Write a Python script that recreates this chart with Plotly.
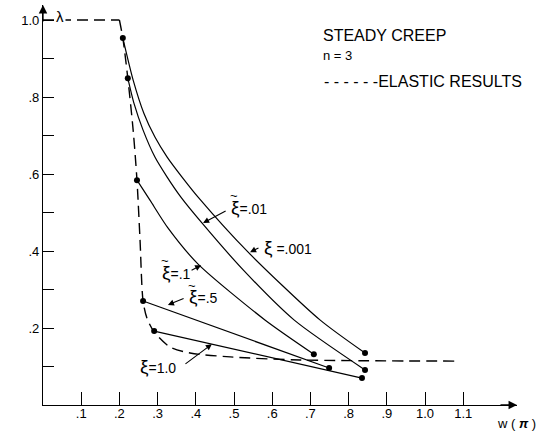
import plotly.graph_objects as go

# ---- data (w in units of pi, lambda) ----
elastic_flat_w = [0.0, 0.2]
elastic_flat_l = [1.0, 1.0]
elastic_w = [0.2, 0.209, 0.222, 0.236, 0.246, 0.254, 0.262, 0.272, 0.291, 0.332, 0.385, 0.490, 0.673, 1.092]
elastic_l = [1.0, 0.953, 0.849, 0.714, 0.584, 0.429, 0.270, 0.226, 0.190, 0.151, 0.135, 0.125, 0.117, 0.114]

xi_001_w = [0.209, 0.236, 0.264, 0.293, 0.325, 0.364, 0.406, 0.537, 0.725, 0.843]
xi_001_l = [0.953, 0.844, 0.758, 0.696, 0.644, 0.592, 0.540, 0.397, 0.221, 0.135]

xi_01_w = [0.222, 0.238, 0.262, 0.293, 0.325, 0.361, 0.416, 0.524, 0.657, 0.843]
xi_01_l = [0.849, 0.784, 0.714, 0.644, 0.592, 0.540, 0.473, 0.351, 0.221, 0.091]

xi_1_w = [0.246, 0.280, 0.327, 0.406, 0.581, 0.709]
xi_1_l = [0.584, 0.532, 0.460, 0.366, 0.221, 0.132]

xi_5_w = [0.262, 0.749]
xi_5_l = [0.270, 0.096]

xi_10_w = [0.291, 0.835]
xi_10_l = [0.192, 0.070]

x_ticks = [0.1, 0.2, 0.3, 0.4, 0.5, 0.6, 0.7, 0.8, 0.9, 1.0, 1.1]
x_tick_labels = [".1", ".2", ".3", ".4", ".5", ".6", ".7", ".8", ".9", "1.0", "1.1"]
y_ticks = [0.1, 0.2, 0.3, 0.4, 0.5, 0.6, 0.7, 0.8, 0.9, 1.0]
y_tick_labels = ["", ".2", "", ".4", "", ".6", "", ".8", "", "1.0"]

FONT = "Liberation Sans"
fig = go.Figure()

dash = "11px,6px"
fig.add_trace(go.Scatter(x=elastic_flat_w, y=elastic_flat_l, mode="lines",
                         line=dict(color="black", width=1.4, dash=dash), showlegend=False))
fig.add_trace(go.Scatter(x=elastic_w, y=elastic_l, mode="lines",
                         line=dict(color="black", width=1.4, dash=dash, shape="spline", smoothing=0.8),
                         showlegend=False))

for w, l, sm in [(xi_001_w, xi_001_l, 0.7), (xi_01_w, xi_01_l, 0.7), (xi_1_w, xi_1_l, 0.7),
                 (xi_5_w, xi_5_l, 0), (xi_10_w, xi_10_l, 0)]:
    fig.add_trace(go.Scatter(x=w, y=l, mode="lines",
                             line=dict(color="black", width=1.2, shape="spline" if sm else "linear",
                                       smoothing=sm if sm else None),
                             showlegend=False))
    fig.add_trace(go.Scatter(x=[w[0], w[-1]], y=[l[0], l[-1]], mode="markers",
                             marker=dict(color="black", size=6), showlegend=False))

annotations = []
def txt(x, y, s, size=14, xanchor="left", **kw):
    annotations.append(dict(x=x, y=y, xref="x", yref="y", text=s, showarrow=False,
                            xanchor=xanchor, yanchor="middle",
                            font=dict(family=FONT, size=size, color="black"), **kw))

def arrow(x0, y0, x1, y1):
    annotations.append(dict(x=x1, y=y1, ax=x0, ay=y0, xref="x", yref="y", axref="x", ayref="y",
                            text="", showarrow=True, arrowhead=2, arrowsize=1.1, arrowwidth=1.1,
                            arrowcolor="black"))

def xi_label(x, y, rest, tilde):
    txt(x, y, "<span style='font-size:19px'>ξ</span>" + rest, 14)
    if tilde:
        txt(x + 0.014, y + 0.030, "~", 13, xanchor="center")

txt(0.728, 0.961, "STEADY CREEP", 16)
txt(0.728, 0.909, "n = 3", 13)
txt(0.730, 0.839, "- - - - - -ELASTIC RESULTS", 16)
txt(0.0445, 1.008, "λ", 15, xanchor="center", bgcolor="white")

xi_label(0.487, 0.514, "=.01", True)
arrow(0.482, 0.506, 0.419, 0.473)
xi_label(0.573, 0.408, " =.001", False)
arrow(0.568, 0.410, 0.542, 0.397)
xi_label(0.306, 0.345, "=.1", True)
arrow(0.385, 0.348, 0.414, 0.363)
xi_label(0.377, 0.281, "=.5", True)
arrow(0.372, 0.278, 0.327, 0.260)
xi_label(0.249, 0.099, "=1.0", False)
arrow(0.369, 0.104, 0.442, 0.158)

XMAX = 474 / 382
YMAX = 400 / 385
# axis arrowheads
annotations.append(dict(x=XMAX, y=0, xref="x", yref="y", ax=-18, ay=0, text="", showarrow=True,
                        arrowhead=2, arrowsize=1.3, arrowwidth=1.3, arrowcolor="black"))
annotations.append(dict(x=0, y=YMAX, xref="x", yref="y", ax=0, ay=18, text="", showarrow=True,
                        arrowhead=2, arrowsize=1.3, arrowwidth=1.3, arrowcolor="black"))
annotations.append(dict(x=0.954, y=-0.045, xref="paper", yref="paper", text="w ( <i><b>π</b></i> )",
                        showarrow=False, xanchor="left", yanchor="middle",
                        font=dict(family=FONT, size=13, color="black")))

fig.update_layout(
    width=547, height=431, margin=dict(l=43, r=30, t=5, b=26),
    paper_bgcolor="white", plot_bgcolor="white",
    annotations=annotations,
    font=dict(family=FONT, size=13, color="black"),
    xaxis=dict(range=[0, XMAX], showgrid=False, zeroline=False, showline=True, linecolor="black",
               linewidth=1.3, ticks="inside", ticklen=13, tickwidth=1.2, tickcolor="black",
               tickvals=x_ticks, ticktext=x_tick_labels, tickfont=dict(size=13),
               automargin=False, ticklabelstandoff=-4),
    yaxis=dict(range=[0, YMAX], showgrid=False, zeroline=False, showline=True, linecolor="black",
               linewidth=1.3, ticks="inside", ticklen=11, tickwidth=1.2, tickcolor="black",
               tickvals=y_ticks, ticktext=y_tick_labels, tickfont=dict(size=13),
               automargin=False),
)

fig.write_html("out.html", config={"displayModeBar": False},
               post_script="document.body.style.margin='0';document.body.style.overflow='hidden';")
